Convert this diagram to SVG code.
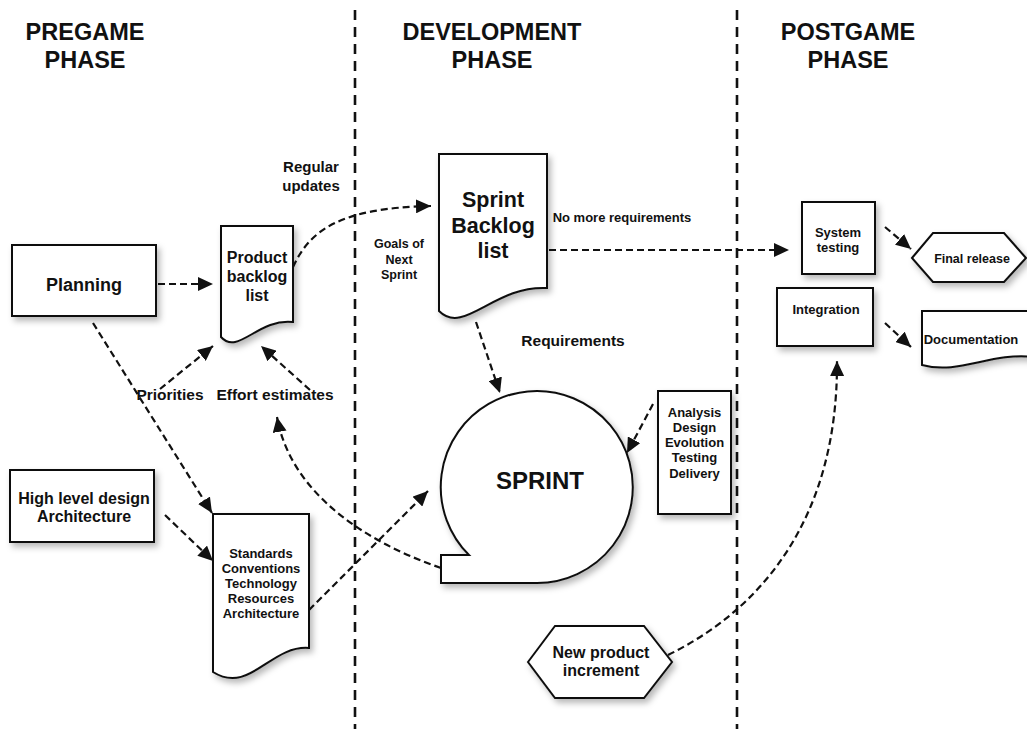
<svg xmlns="http://www.w3.org/2000/svg" width="1027" height="729" viewBox="0 0 1027 729">
<style>
text{font-family:"Liberation Sans",Arial,sans-serif;font-weight:bold;fill:#111;text-anchor:middle}
.shape{fill:#fff;stroke:#111;stroke-width:2;filter:url(#sh)}
.phase{stroke:#111;stroke-width:2.6;stroke-dasharray:10 7;fill:none}
.conn{stroke:#111;stroke-width:2.2;stroke-dasharray:7 4;fill:none;marker-end:url(#arr)}
.conn0{stroke:#111;stroke-width:2.2;stroke-dasharray:7 4;fill:none}
.h{font-size:23.5px}
</style>
<defs>
<filter id="sh" x="-20%" y="-20%" width="150%" height="150%">
<feDropShadow dx="3" dy="4" stdDeviation="3" flood-color="#000" flood-opacity="0.28"/>
</filter>
<marker id="arr" markerUnits="userSpaceOnUse" markerWidth="16" markerHeight="14" refX="15" refY="7" orient="auto">
<path d="M0,0 L15,7 L0,14 Z" fill="#111" stroke="none"/>
</marker>
</defs>

<g id="phases">
<line class="phase" x1="355" y1="10" x2="355" y2="729"/>
<line class="phase" x1="737" y1="10" x2="737" y2="729"/>
<text class="h" x="85" y="40">PREGAME</text>
<text class="h" x="85" y="68">PHASE</text>
<text class="h" x="492" y="40">DEVELOPMENT</text>
<text class="h" x="492" y="68">PHASE</text>
<text class="h" x="848" y="40">POSTGAME</text>
<text class="h" x="848" y="68">PHASE</text>
</g>

<g id="connectors">
<line class="conn" x1="158" y1="284" x2="213" y2="284"/>
<path class="conn" d="M293,267 C310,230 340,208 431,206"/>
<line class="conn" x1="476" y1="322" x2="500" y2="393"/>
<line class="conn" x1="549" y1="250" x2="789" y2="250"/>
<line class="conn" x1="653" y1="404" x2="627" y2="453"/>
<line class="conn" x1="885" y1="227" x2="911" y2="249"/>
<line class="conn" x1="885" y1="323" x2="911" y2="347"/>
<path class="conn" d="M668,655 C760,610 838,520 837,361"/>
<line class="conn" x1="93" y1="323" x2="212" y2="513"/>
<line class="conn" x1="165" y1="515" x2="213" y2="561"/>
<line class="conn" x1="309" y1="610" x2="428" y2="491"/>
<path class="conn" d="M441,568 C360,540 290,490 277,417"/>
<line class="conn" x1="160" y1="389" x2="213" y2="346"/>
<line class="conn" x1="310" y1="390" x2="261" y2="346"/>
<text x="311" y="172" style="font-size:15px">Regular</text>
<text x="311" y="191" style="font-size:15px">updates</text>
<text x="399" y="248" style="font-size:12.5px">Goals of</text>
<text x="399" y="263.5" style="font-size:12.5px">Next</text>
<text x="399" y="279" style="font-size:12.5px">Sprint</text>
<text x="622" y="222" style="font-size:13px">No more requirements</text>
<text x="573" y="346" style="font-size:15.5px">Requirements</text>
<text x="170" y="400" style="font-size:15.5px">Priorities</text>
<text x="275" y="400" style="font-size:15.5px">Effort estimates</text>
</g>

<g id="planning">
<rect class="shape" x="12" y="245" width="144" height="71"/>
<text x="84" y="291" style="font-size:18px">Planning</text>
</g>

<g id="product-backlog">
<path class="shape" d="M221,226 H293 V322 C258,318 238,356 221,337 Z"/>
<text x="257" y="263" style="font-size:16px">Product</text>
<text x="257" y="282" style="font-size:16px">backlog</text>
<text x="257" y="301" style="font-size:16px">list</text>
</g>

<g id="sprint-backlog">
<path class="shape" d="M439,154 H547 V288 C494,285 464,336 439,311 Z"/>
<text x="493" y="207" style="font-size:21.5px">Sprint</text>
<text x="493" y="233" style="font-size:21.5px">Backlog</text>
<text x="493" y="258" style="font-size:21.5px">list</text>
</g>

<g id="sprint">
<path class="shape" d="M469,555 A96,96 0 1 1 537,583 H441 V555 Z"/>
<text x="540" y="489" style="font-size:24px">SPRINT</text>
</g>

<g id="activities">
<rect class="shape" x="658" y="391" width="73" height="123"/>
<text x="694.5" y="416.5" style="font-size:13px">Analysis</text>
<text x="694.5" y="432" style="font-size:13px">Design</text>
<text x="694.5" y="447" style="font-size:13px">Evolution</text>
<text x="694.5" y="462" style="font-size:13px">Testing</text>
<text x="694.5" y="477.5" style="font-size:13px">Delivery</text>
</g>

<g id="system-testing">
<rect class="shape" x="802" y="202" width="73" height="72"/>
<text x="838" y="237" style="font-size:13px">System</text>
<text x="838" y="252" style="font-size:13px">testing</text>
</g>

<g id="integration">
<rect class="shape" x="777" y="288" width="96" height="58"/>
<text x="826" y="314" style="font-size:13px">Integration</text>
</g>

<g id="final-release">
<path class="shape" d="M912,258 L933,233 H1004 L1026,258 L1004,282 H933 Z"/>
<text x="972" y="263" style="font-size:12.5px">Final release</text>
</g>

<g id="documentation">
<path class="shape" d="M922,311 H1034 V357 C990,352 960,375 922,365 Z"/>
<text x="971" y="344" style="font-size:13px">Documentation</text>
</g>

<g id="high-level-design">
<rect class="shape" x="10" y="470" width="144" height="72"/>
<text x="84" y="504" style="font-size:16px">High level design</text>
<text x="84" y="522" style="font-size:16px">Architecture</text>
</g>

<g id="standards">
<path class="shape" d="M213,514 H309 V648 C270,645 250,695 213,672 Z"/>
<text x="261" y="557.5" style="font-size:13px">Standards</text>
<text x="261" y="573" style="font-size:13px">Conventions</text>
<text x="261" y="588" style="font-size:13px">Technology</text>
<text x="261" y="603" style="font-size:13px">Resources</text>
<text x="261" y="618" style="font-size:13px">Architecture</text>
</g>

<g id="new-product-increment">
<path class="shape" d="M528,662 L555,626 H644 L672,662 L644,698 H555 Z"/>
<text x="601" y="658" style="font-size:16px">New product</text>
<text x="601" y="676" style="font-size:16px">increment</text>
</g>
</svg>
